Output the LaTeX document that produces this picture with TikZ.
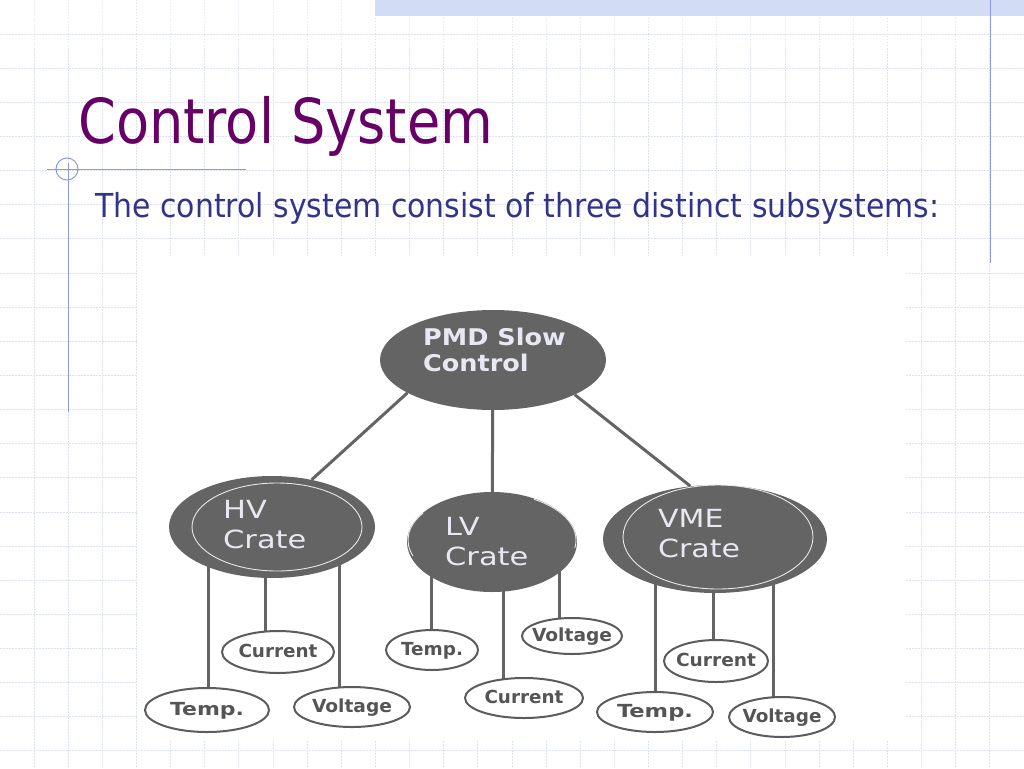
\documentclass[tikz,border=0pt]{standalone}
\usepackage{fontspec}
\setmainfont{DejaVu Sans}
\usetikzlibrary{shapes.geometric}
\definecolor{gridcol}{HTML}{DDE1F3}
\definecolor{blueline}{HTML}{8C9BE0}
\definecolor{barblue}{HTML}{D3DCF5}
\definecolor{titlepurple}{HTML}{660066}
\definecolor{subblue}{HTML}{333388}
\definecolor{nodegray}{HTML}{646464}
\definecolor{nodetext}{HTML}{E8E8F2}
\definecolor{leafgray}{HTML}{5C5C5C}
\definecolor{labgray}{HTML}{555555}
\pgfdeclarelayer{back}
\pgfdeclarelayer{lines}
\pgfsetlayers{back,lines,main}
\newcommand\fitw[2]{\resizebox{#1pt}{\height}{#2}}
\newcommand\lab[2]{\makebox[0pt]{\fitw{#1}{#2}}}
\begin{document}
\begin{tikzpicture}[x=1pt,y=-1pt,
  crate/.style={ellipse, fill=nodegray, draw=none, inner sep=0pt},
  leaf/.style={ellipse, fill=white, draw=leafgray, line width=2pt, inner sep=0pt,
    text=labgray, font=\fontsize{18}{20}\selectfont\bfseries, text height=13pt, text depth=3pt},
  conn/.style={draw=nodegray, line width=3pt},
  ctext/.style={anchor=base west, text=nodetext, inner sep=0pt},
  innerline/.style={draw=white!85!nodegray, line width=0.9pt},
  gridline/.style={draw=gridcol, line width=0.9pt, dash pattern=on 1.5pt off 1.5pt},
  deco/.style={draw=blueline, line width=1pt}]
\useasboundingbox (0,0) rectangle (1024,768);
\begin{pgfonlayer}{back}
  \fill[white] (0,0) rectangle (1024,768);
  \foreach \k in {1,...,29} \draw[gridline] (\k*34.133,0) -- (\k*34.133,768);
  \foreach \k in {1,...,22} \draw[gridline] (0,\k*34.133) -- (1024,\k*34.133);
  \fill[barblue] (375,0) rectangle (1024,16);
  \fill[white] (137,256) rectangle (905,741);
  \draw[deco] (990,0) -- (990,263);
  \draw[deco] (47,169) -- (246,169);
  \draw[deco] (68,163) -- (68,412);
  \draw[deco] (67,169) circle[radius=11pt];
\end{pgfonlayer}

\node[anchor=base west, inner sep=0pt, text=titlepurple] (title) at (78,143)
  {\fitw{415}{\fontsize{62}{62}\selectfont Control System}};
\node[anchor=base west, inner sep=0pt, text=subblue] (sub) at (95,217)
  {\fitw{844}{\fontsize{33}{33}\selectfont The control system consist of three distinct subsystems:}};

% crates
\node[crate, minimum width=226pt, minimum height=100pt] (pmd) at (493,360) {};
\node[crate, minimum width=206pt, minimum height=102pt] (hv) at (272,527) {};
\node[crate, minimum width=170pt, minimum height=100pt] (lv) at (492,542) {};
\node[crate, minimum width=224pt, minimum height=108pt] (vme) at (715,539) {};

\draw[innerline] ([xshift=5pt]hv.center) ellipse[x radius=85pt, y radius=44pt];
\draw[innerline] ([xshift=3pt,yshift=2pt]vme.center) ellipse[x radius=95pt, y radius=52pt];
\draw[innerline] ([yshift=2pt]lv.center) ++(145:84pt and 47pt) arc[start angle=145, end angle=200, x radius=84pt, y radius=47pt];
\draw[innerline] ([yshift=2pt]lv.center) ++(-10:84pt and 47pt) arc[start angle=-10, end angle=60, x radius=84pt, y radius=47pt];

\node[ctext] (pmdt) at (423,345) {\scalebox{1.11}[1]{\fontsize{23}{26}\selectfont\bfseries
  \begin{tabular}[t]{@{}l@{}}PMD Slow\\Control\end{tabular}}};
\node[ctext] (hvt) at (223,518) {\scalebox{1.22}[1]{\fontsize{25}{30}\selectfont
  \begin{tabular}[t]{@{}l@{}}HV\\Crate\end{tabular}}};
\node[ctext] (lvt) at (445,535) {\scalebox{1.22}[1]{\fontsize{25}{30}\selectfont
  \begin{tabular}[t]{@{}l@{}}LV\\Crate\end{tabular}}};
\node[ctext] (vmet) at (658,527) {\scalebox{1.20}[1]{\fontsize{25}{30}\selectfont
  \begin{tabular}[t]{@{}l@{}}VME\\Crate\end{tabular}}};

% leaves
\node[leaf, minimum width=124pt, minimum height=44pt] (hvtemp) at (207,710) {\lab{74}{Temp.}};
\node[leaf, minimum width=112pt, minimum height=42pt] (hvcur) at (278,652) {\lab{79}{Current}};
\node[leaf, minimum width=116pt, minimum height=40pt] (hvvolt) at (352,707) {\lab{80}{Voltage}};
\node[leaf, minimum width=92pt, minimum height=40pt] (lvtemp) at (432,650) {\lab{62}{Temp.}};
\node[leaf, minimum width=100pt, minimum height=36pt] (lvvolt) at (572,636) {\lab{80}{Voltage}};
\node[leaf, minimum width=118pt, minimum height=40pt] (lvcur) at (524,698) {\lab{79}{Current}};
\node[leaf, minimum width=104pt, minimum height=42pt] (vmecur) at (716,661) {\lab{80}{Current}};
\node[leaf, minimum width=116pt, minimum height=40pt] (vmetemp) at (655,712) {\lab{76}{Temp.}};
\node[leaf, minimum width=106pt, minimum height=40pt] (vmevolt) at (782,717) {\lab{79}{Voltage}};

\begin{pgfonlayer}{lines}
  \draw[conn] (pmd.201) -- (hv.50);
  \draw[conn] (pmd.center) -- (lv.center);
  \draw[conn] (pmd.337) -- (vme.115);
  \foreach \leafn/\craten/\dx in {hvtemp/hv/1, hvcur/hv/-13, hvvolt/hv/-13,
      lvtemp/lv/-1, lvcur/lv/-21, lvvolt/lv/-13,
      vmetemp/vme/0, vmecur/vme/-3, vmevolt/vme/-9} {
    \coordinate (\leafn-top) at ([xshift=\dx pt]\leafn.center);
    \draw[conn] (\leafn-top) -- (\leafn-top |- \craten.center);
  }
\end{pgfonlayer}
\end{tikzpicture}
\end{document}
